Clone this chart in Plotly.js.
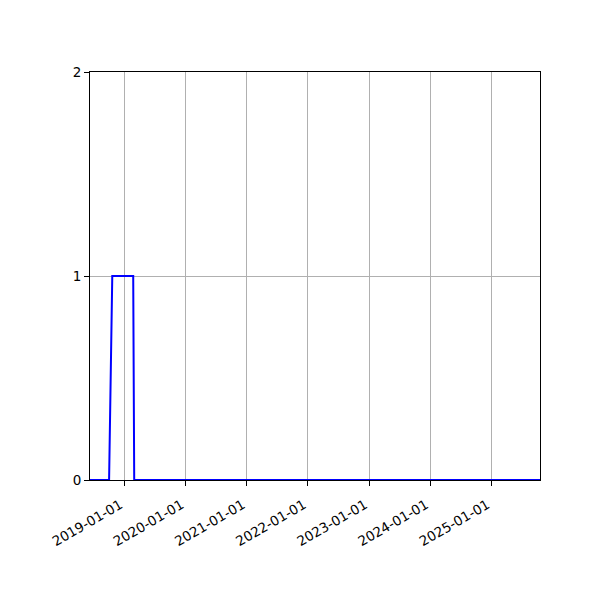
<!DOCTYPE html>
<html>
<head>
<meta charset="utf-8">
<script src="https://cdn.plot.ly/plotly-3.0.1.min.js"></script>
<style>html,body{margin:0;padding:0;background:#fff;}#chart{width:600px;height:600px;}</style>
</head>
<body>
<div id="chart"></div>
<script>
const dates = ['2018-06-10', '2018-10-02', '2018-10-21', '2019-02-23', '2019-03-01', '2025-10-18'];
const values = [0, 0, 1, 1, 0, 0];
const tickDates = ['2019-01-01', '2020-01-01', '2021-01-01', '2022-01-01', '2023-01-01', '2024-01-01', '2025-01-01'];
const tickLabels = ['2019-01-01', '2020-01-01', '2021-01-01', '2022-01-01', '2023-01-01', '2024-01-01', '2025-01-01'];
const yTicks = [0, 1, 2];

const trace = {
  x: dates, y: values, type: 'scatter', mode: 'lines',
  line: {color: '#0000ff', width: 2}, hoverinfo: 'skip'
};
const axisCommon = {
  showline: true, linecolor: '#000', linewidth: 1, mirror: true,
  ticks: 'outside', ticklen: 5, tickwidth: 1, tickcolor: '#000',
  showgrid: true, gridcolor: '#b0b0b0', gridwidth: 1, zeroline: false,
  tickfont: {family: 'DejaVu Sans', size: 13.5, color: '#000'}
};
const layout = {
  width: 600, height: 600,
  margin: {l: 90, r: 60, t: 72, b: 120},
  paper_bgcolor: '#fff', plot_bgcolor: '#fff',
  showlegend: false,
  font: {family: 'DejaVu Sans', size: 13.5, color: '#000'},
  xaxis: Object.assign({}, axisCommon, {
    type: 'date', range: [dates[0], dates[dates.length - 1]],
    tickmode: 'array', tickvals: tickDates, ticktext: tickLabels, tickangle: -30,
    ticklabelshift: -4, ticklabelstandoff: 6
  }),
  yaxis: Object.assign({}, axisCommon, {
    range: [0, 2], tickmode: 'array', tickvals: yTicks, ticktext: yTicks.map(String)
  })
};
Plotly.newPlot('chart', [trace], layout, {staticPlot: true, displayModeBar: false});
</script>
</body>
</html>
